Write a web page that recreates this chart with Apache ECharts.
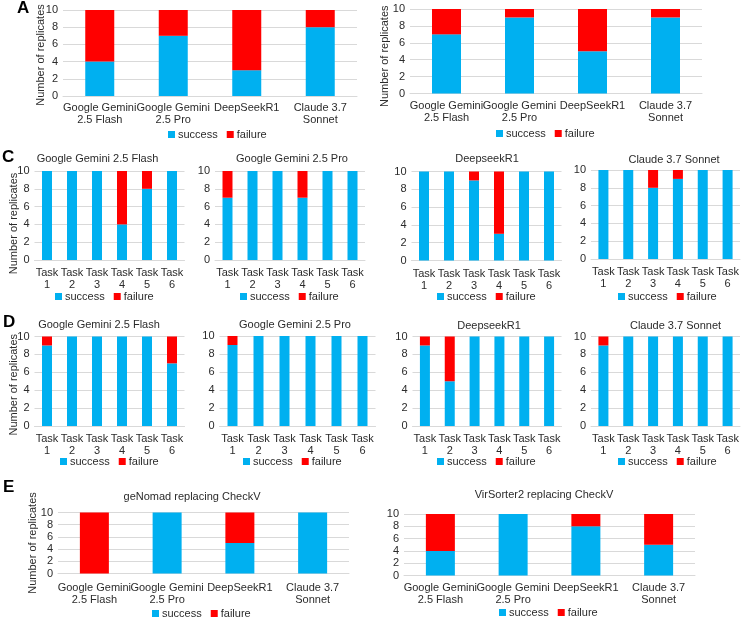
<!DOCTYPE html>
<html>
<head>
<meta charset="utf-8">
<script src="https://cdn.jsdelivr.net/npm/echarts@6/dist/echarts.min.js"></script>
<style>
html,body{margin:0;padding:0;background:#fff;}
#c{width:742px;height:622px;}
</style>
</head>
<body>
<div id="c"></div>
<script>
// ---- data ----
const models = ['Google Gemini\n2.5 Flash', 'Google Gemini\n2.5 Pro', 'DeepSeekR1', 'Claude 3.7\nSonnet'];
const tasks = ['Task\n1', 'Task\n2', 'Task\n3', 'Task\n4', 'Task\n5', 'Task\n6'];
const seriesNames = ['success', 'failure'];
const yTicks = [0, 2, 4, 6, 8, 10];

const A_success = [4, 7, 3, 8];
const A_failure = [6, 3, 7, 2];
const B_success = [7, 9, 5, 9];
const B_failure = [3, 1, 5, 1];

const C_flash_success = [10, 10, 10, 4, 8, 10];
const C_flash_failure = [0, 0, 0, 6, 2, 0];
const C_pro_success = [7, 10, 10, 7, 10, 10];
const C_pro_failure = [3, 0, 0, 3, 0, 0];
const C_deepseek_success = [10, 10, 9, 3, 10, 10];
const C_deepseek_failure = [0, 0, 1, 7, 0, 0];
const C_claude_success = [10, 10, 8, 9, 10, 10];
const C_claude_failure = [0, 0, 2, 1, 0, 0];

const D_flash_success = [9, 10, 10, 10, 10, 7];
const D_flash_failure = [1, 0, 0, 0, 0, 3];
const D_pro_success = [9, 10, 10, 10, 10, 10];
const D_pro_failure = [1, 0, 0, 0, 0, 0];
const D_deepseek_success = [9, 5, 10, 10, 10, 10];
const D_deepseek_failure = [1, 5, 0, 0, 0, 0];
const D_claude_success = [9, 10, 10, 10, 10, 10];
const D_claude_failure = [1, 0, 0, 0, 0, 0];

const E_genomad_success = [0, 10, 5, 10];
const E_genomad_failure = [10, 0, 5, 0];
const E_virsorter_success = [4, 10, 8, 5];
const E_virsorter_failure = [6, 0, 2, 5];

const panelTitles = ['', '', 'Google Gemini 2.5 Flash', 'Google Gemini 2.5 Pro', 'DeepseekR1', 'Claude 3.7 Sonnet',
  'Google Gemini 2.5 Flash', 'Google Gemini 2.5 Pro', 'DeepseekR1', 'Claude 3.7 Sonnet',
  'geNomad replacing CheckV', 'VirSorter2 replacing CheckV'];
const panelLetters = ['A', 'C', 'D', 'E'];
const yName = 'Number of replicates';

// ---- layout (positions / styles) ----
const FONT = '"Liberation Sans", Arial, sans-serif';
const TXT = '#2b2b2b';
const BLUE = '#00B0F0';
const RED = '#FF0000';
const GRIDC = '#D9D9D9';

const panels = [
  {cats: models, s: A_success, f: A_failure, g: [63, 10, 294, 86], bw: 29, yn: 17, yp: 4, lm: 6, lg: [168, 129], t: null},
  {cats: models, s: B_success, f: B_failure, g: [410, 9, 292, 84.5], bw: 29, yn: 20, yp: 10, lm: 6, lg: [496, 128], t: null},
  {cats: tasks, s: C_flash_success, f: C_flash_failure, g: [34.5, 171, 150, 89], bw: 10, yn: 15.5, yp: 16, lm: 7, lg: [55, 291], t: [97.5, 153]},
  {cats: tasks, s: C_pro_success, f: C_pro_failure, g: [215, 171, 150, 89], bw: 10, yn: null, lm: 7, lg: [240, 291], t: [292, 153]},
  {cats: tasks, s: C_deepseek_success, f: C_deepseek_failure, g: [411.5, 171.5, 150, 89], bw: 10, yn: null, lm: 7, lg: [437, 291], t: [487, 153]},
  {cats: tasks, s: C_claude_success, f: C_claude_failure, g: [591, 170, 149, 89], bw: 10, yn: null, lm: 7, lg: [618, 291], t: [674, 154]},
  {cats: tasks, s: D_flash_success, f: D_flash_failure, g: [34.5, 336.5, 150, 89.5], bw: 10, yn: 15.5, yp: 7, lm: 7, lg: [60, 456], t: [99, 319]},
  {cats: tasks, s: D_pro_success, f: D_pro_failure, g: [219.5, 336, 156, 90], bw: 10, yn: null, lm: 7, lg: [243, 456], t: [295, 319]},
  {cats: tasks, s: D_deepseek_success, f: D_deepseek_failure, g: [412.5, 336.5, 149, 89.5], bw: 10, yn: null, lm: 7, lg: [437, 456], t: [489, 320]},
  {cats: tasks, s: D_claude_success, f: D_claude_failure, g: [591, 336.5, 149, 89.5], bw: 10, yn: null, lm: 7, lg: [618, 456], t: [675.5, 320]},
  {cats: models, s: E_genomad_success, f: E_genomad_failure, g: [58, 512.5, 291, 61], bw: 29, yn: 20, yp: 0, lm: 8, lg: [152, 608], t: [192, 491]},
  {cats: models, s: E_virsorter_success, f: E_virsorter_failure, g: [404, 514, 291, 61.5], bw: 29, yn: null, lm: 6, lg: [499, 607], t: [544, 489]}
];
const letterPos = [[17, 0], [2, 149], [3, 314], [3, 479]];

const grid = [], xAxis = [], yAxis = [], series = [], legend = [], title = [];

panels.forEach((p, i) => {
  grid.push({left: p.g[0], top: p.g[1], width: p.g[2], height: p.g[3], containLabel: false});
  xAxis.push({
    type: 'category', gridIndex: i, data: p.cats,
    axisLine: {show: true, lineStyle: {color: GRIDC, width: 1}},
    axisTick: {show: false},
    axisLabel: {interval: 0, color: TXT, fontFamily: FONT, fontSize: 11, lineHeight: 12, margin: p.lm}
  });
  yAxis.push({
    type: 'value', gridIndex: i, min: 0, max: 10, interval: 2,
    axisLine: {show: false}, axisTick: {show: false},
    splitLine: {show: true, lineStyle: {color: GRIDC, width: 1}},
    axisLabel: {color: TXT, fontFamily: FONT, fontSize: 11, margin: 5,
      formatter: v => yTicks.indexOf(v) >= 0 ? String(v) : ''},
    name: p.yn != null ? yName : '',
    nameLocation: 'middle', nameGap: p.yn != null ? p.yn : 0,
    nameMoveOverlap: false,
    nameTextStyle: {color: TXT, fontFamily: FONT, fontSize: 11, padding: [0, p.yp || 0, 0, 0]}
  });
  series.push({name: seriesNames[0], type: 'bar', stack: 's' + i, xAxisIndex: i, yAxisIndex: i,
    data: p.s, barWidth: p.bw, itemStyle: {color: BLUE}, silent: true});
  series.push({name: seriesNames[1], type: 'bar', stack: 's' + i, xAxisIndex: i, yAxisIndex: i,
    data: p.f, barWidth: p.bw, itemStyle: {color: RED}, silent: true});
  legend.push({
    left: p.lg[0], top: p.lg[1], orient: 'horizontal', padding: 0,
    itemWidth: 7, itemHeight: 7, itemGap: 9, icon: 'rect',
    data: seriesNames,
    textStyle: {color: TXT, fontFamily: FONT, fontSize: 11, padding: [0, 0, 0, -2]},
    selectedMode: false
  });
  if (p.t) {
    title.push({text: panelTitles[i], left: p.t[0], top: p.t[1], textAlign: 'center', padding: 0,
      textStyle: {color: TXT, fontFamily: FONT, fontSize: 11, fontWeight: 'normal'}});
  }
});
panelLetters.forEach((L, k) => {
  title.push({text: L, left: letterPos[k][0], top: letterPos[k][1], padding: 0,
    textStyle: {color: '#000', fontFamily: FONT, fontSize: 17, fontWeight: 'bold'}});
});

const chart = echarts.init(document.getElementById('c'), null, {renderer: 'canvas'});
chart.setOption({
  animation: false,
  backgroundColor: '#ffffff',
  title, grid, xAxis, yAxis, series, legend
});
</script>
</body>
</html>
